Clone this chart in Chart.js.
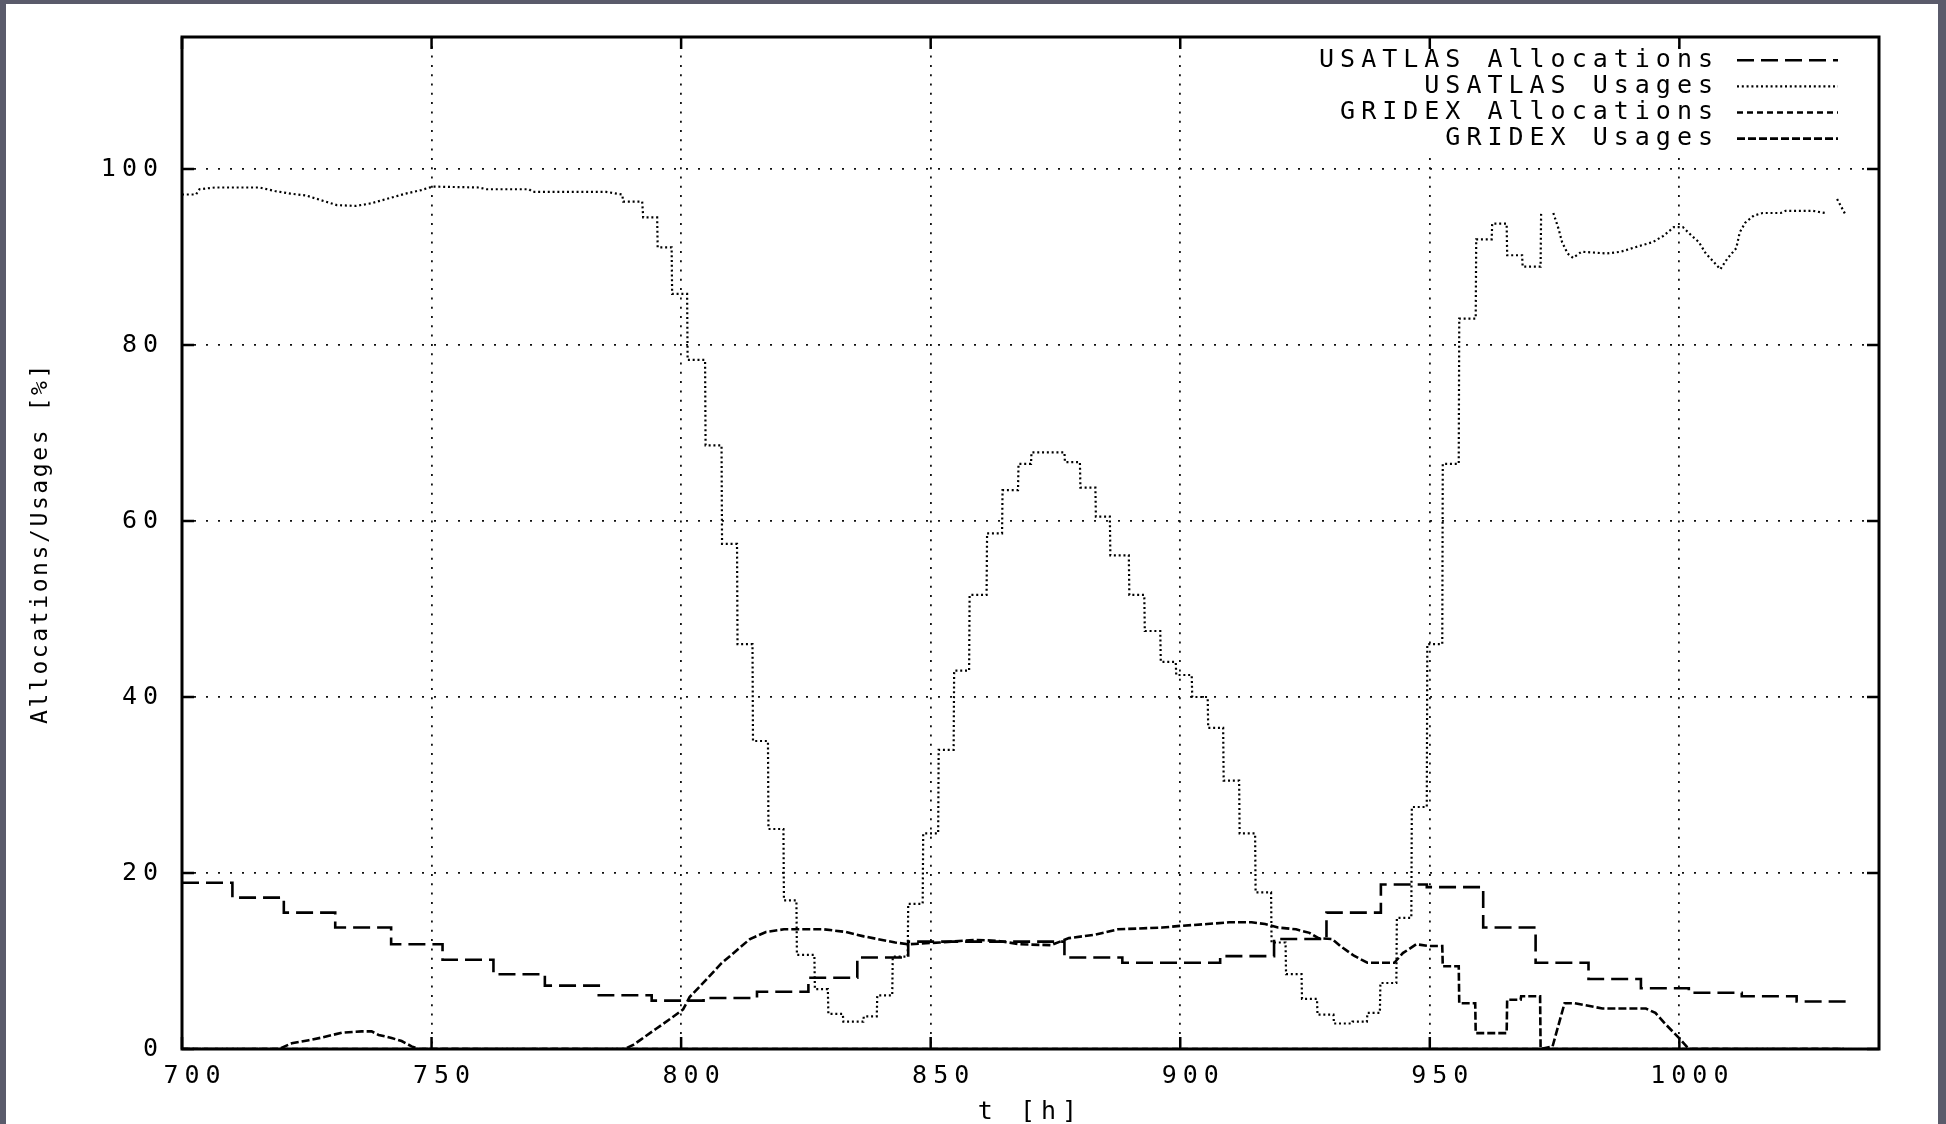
<!DOCTYPE html>
<html><head><meta charset="utf-8">
<script src="https://cdn.jsdelivr.net/npm/chart.js@4.4.1/dist/chart.umd.min.js"></script>
<style>
html,body{margin:0;padding:0;background:#5a5b6b;width:1946px;height:1124px;overflow:hidden}
#wrap{position:absolute;left:6px;top:4px;width:1932px;height:1120px;background:#fff}
</style></head><body><div id="wrap"><canvas id="c"></canvas></div>
<script>
// ---- axis ticks ----
const xTickValues = [700, 750, 800, 850, 900, 950, 1000];
const xTickLabels = ['700', '750', '800', '850', '900', '950', '1000'];
const yTickValues = [0, 20, 40, 60, 80, 100];
const yTickLabels = ['0', '20', '40', '60', '80', '100'];

// ---- series labels ----
const seriesLabels = ['USATLAS Allocations', 'USATLAS Usages', 'GRIDEX Allocations', 'GRIDEX Usages'];

// ---- USATLAS Allocations (step changes: time, value) ----
const usatlasAllocT = [700, 710.1, 720.4, 730.7, 741.9, 752.2, 762.4, 772.7, 783.5, 794.1, 804.5, 815.2, 825.5, 835.3, 845.5, 876.8, 888.4, 908, 918.8, 929.3, 940.2, 949.4, 960.7, 971.2, 981.8, 992.3, 1001.9, 1012.5, 1023.5, 1034];
const usatlasAllocV = [18.9, 17.2, 15.5, 13.8, 11.9, 10.15, 8.5, 7.2, 6.1, 5.5, 5.8, 6.5, 8.1, 10.4, 12.2, 10.4, 9.8, 10.55, 12.5, 15.5, 18.7, 18.4, 13.8, 9.8, 7.96, 6.9, 6.4, 6.0, 5.4, 5.4];

// ---- USATLAS Usages ----
const usatlasUseT = [700, 702.8, 703.5, 706.6, 715.5, 718.6, 721.7, 724.8, 727.9, 731, 734.8, 737.9, 741, 744.8, 747.9, 750.2, 759.5, 761, 769.5, 770.3, 785, 788.2,
  788.4, 792.2, 792.4, 795.2, 795.3, 798.1, 798.2, 801.2, 801.3, 804.8, 804.9, 808.1, 808.2, 811.2, 811.3, 814.3, 814.4, 817.4, 817.5, 820.5, 820.6, 823.1, 823.2, 826.7, 826.8, 829.4, 829.5, 832.4, 832.5, 836.5, 836.6, 839.2,
  839.3, 842.3, 842.4, 845.4, 845.5, 848.4, 848.5, 851.5, 851.6, 854.6, 854.7, 857.7, 857.8, 861.2, 861.3, 864.3, 864.4, 867.5, 867.6, 870.1, 870.2, 876.8,
  876.9, 879.9, 880, 883, 883.1, 885.9, 886, 889.7, 889.8, 892.8, 892.9, 896, 896.1, 899.1, 899.2, 902.3, 902.4, 905.5, 905.6, 908.6, 908.7, 911.8, 911.9, 915, 915.1, 918.2, 918.3, 921.1, 921.2, 924.3, 924.4, 927.4, 927.5, 930.7, 930.8, 934.4, 934.5, 937.4, 937.5, 940, 940.1, 943.3,
  943.4, 946.3, 946.4, 949.4, 949.5, 952.5, 952.6, 955.8, 955.9, 959.2, 959.3, 962.4, 962.5, 965.4, 965.5, 968.5, 968.6, 972.2, 972.3,
  973.5,
  974.75, 975.8, 976.5, 977.6, 978.7, 980.4, 985.4, 988.3, 991.1, 994.7, 996.8, 998.9, 1000.7, 1002.5, 1003.9, 1005.3, 1006.8, 1008.2, 1009.6, 1011.4, 1012.1, 1013.2, 1014.9, 1016.7, 1020.3, 1021.3, 1026.7, 1029.2,
  1030.4,
  1031.6, 1033.2];
const usatlasUseV = [97.1, 97.1, 97.7, 97.9, 97.9, 97.5, 97.2, 97.0, 96.45, 95.9, 95.8, 96.1, 96.6, 97.2, 97.6, 98.0, 97.9, 97.7, 97.7, 97.4, 97.4, 97.1,
  96.3, 96.3, 94.5, 94.5, 91.1, 91.1, 85.8, 85.8, 78.3, 78.3, 68.6, 68.6, 57.4, 57.4, 46, 46, 35, 35, 25, 25, 16.9, 16.9, 10.7, 10.7, 6.8, 6.8, 4.0, 4.0, 3.1, 3.1, 3.7, 3.7,
  6.1, 6.1, 10.5, 10.5, 16.5, 16.5, 24.5, 24.5, 34, 34, 43, 43, 51.6, 51.6, 58.6, 58.6, 63.5, 63.5, 66.5, 66.5, 67.8, 67.8,
  66.7, 66.7, 63.8, 63.8, 60.5, 60.5, 56.1, 56.1, 51.6, 51.6, 47.5, 47.5, 44, 44, 42.5, 42.5, 40, 40, 36.5, 36.5, 30.5, 30.5, 24.5, 24.5, 17.8, 17.8, 12.1, 12.1, 8.5, 8.5, 5.7, 5.7, 3.9, 3.9, 2.9, 2.9, 3.1, 3.1, 4.1, 4.1, 7.5, 7.5,
  14.9, 14.9, 27.5, 27.5, 46, 46, 66.5, 66.5, 83, 83, 92, 92, 93.8, 93.8, 90.2, 90.2, 88.9, 88.9, 94.9,
  null,
  95.0, 93.2, 91.7, 90.4, 89.9, 90.6, 90.4, 90.6, 91.1, 91.7, 92.4, 93.4, 93.4, 92.4, 91.7, 90.4, 89.5, 88.6, 89.8, 91.0, 92.8, 93.9, 94.7, 95.0, 95.0, 95.25, 95.25, 95.0,
  null,
  96.6, 94.9];

// ---- GRIDEX Allocations ----
const gridexAllocT = [700, 1033];
const gridexAllocV = [0, 0];

// ---- GRIDEX Usages ----
const gridexUseT = [700, 719.4, 722, 725.4, 728, 732, 736, 738, 739.4, 742, 744, 746, 747.4, 788.7, 790.5, 792, 795, 798, 800.4, 801.7, 804.9, 808, 810.7, 813.8, 817, 820.6, 828.6, 833, 836.6, 839.3, 842.9, 845.5, 851.8, 858.9, 863.4, 867.9, 874.1, 877.7, 883, 887.5, 896.4, 900.2, 905.4, 909.8, 914.3, 917, 919.6, 923.2, 925.9, 927.7, 930.4, 932.1, 934.8, 937.5, 942.9, 944.6, 947.3, 950, 952.5, 952.6, 955.8, 955.9, 959.1, 959.2, 965.4, 965.5, 968.2, 968.3, 972.1, 972.2, 974.6, 977, 979, 984.6, 993.3, 995.2, 997.1, 1000, 1001.9, 1033];
const gridexUseV = [0, 0, 0.65, 1.0, 1.3, 1.85, 2.0, 2.0, 1.6, 1.25, 0.9, 0.3, 0, 0, 0.5, 1.1, 2.3, 3.5, 4.5, 5.9, 7.8, 9.7, 11, 12.5, 13.3, 13.6, 13.6, 13.3, 12.8, 12.5, 12.1, 11.9, 12.1, 12.4, 12.3, 11.9, 11.8, 12.6, 13.0, 13.6, 13.8, 14.0, 14.2, 14.4, 14.4, 14.2, 13.8, 13.6, 13.2, 12.6, 12.5, 11.7, 10.6, 9.8, 9.8, 10.9, 11.9, 11.7, 11.7, 9.4, 9.4, 5.2, 5.2, 1.8, 1.8, 5.6, 5.6, 6.0, 6.0, 0, 0.3, 5.2, 5.2, 4.6, 4.6, 4.1, 2.9, 1.2, 0, 0];

const FONT = 'DejaVu Sans Mono';
const LETTER_SPACING = '6px';
const Y_TITLE_SPACING = '2.6px';
const TICK_LEN = 12;

function zip(t, v) { return t.map((x, i) => ({x: x, y: v[i]})); }

const frame = {
  id: 'frame',
  beforeDraw(chart) {
    chart.ctx.letterSpacing = LETTER_SPACING;
    const ys = chart.scales.y;
    if (ys && !ys.__wrapped) {
      const orig = ys.drawTitle;
      ys.drawTitle = function () {
        const c = this.ctx; const prev = c.letterSpacing;
        c.letterSpacing = Y_TITLE_SPACING; orig.call(this); c.letterSpacing = prev;
      };
      ys.__wrapped = true;
    }
  },
  afterDatasetsDraw(chart) {
    const {ctx, chartArea: a, scales: {x, y}} = chart;
    ctx.save();
    ctx.setLineDash([]);
    ctx.strokeStyle = '#000';
    ctx.lineWidth = 3;
    ctx.strokeRect(a.left, a.top, a.right - a.left, a.bottom - a.top);
    ctx.lineWidth = 2.5;
    ctx.beginPath();
    xTickValues.forEach(v => {
      const px = x.getPixelForValue(v);
      ctx.moveTo(px, a.bottom); ctx.lineTo(px, a.bottom - TICK_LEN);
      ctx.moveTo(px, a.top); ctx.lineTo(px, a.top + TICK_LEN);
    });
    yTickValues.forEach(v => {
      const py = y.getPixelForValue(v);
      ctx.moveTo(a.left, py); ctx.lineTo(a.left + TICK_LEN, py);
      ctx.moveTo(a.right, py); ctx.lineTo(a.right - TICK_LEN, py);
    });
    ctx.stroke();
    ctx.restore();
  },
  afterDraw(chart) {
    const {ctx, chartArea: a} = chart;
    const textRight = a.right - 160, lineL = a.right - 142, lineR = a.right - 41;
    const top = a.top + 23.3, row = 26.1;
    const n = chart.data.datasets.length;
    ctx.save();
    ctx.fillStyle = '#fff';
    ctx.fillRect(a.right - 575, a.top + 13, 570, row * (n - 1) + 28);
    ctx.font = '25px "' + FONT + '"';
    ctx.letterSpacing = LETTER_SPACING;
    ctx.textAlign = 'right';
    ctx.textBaseline = 'middle';
    ctx.fillStyle = '#000';
    chart.data.datasets.forEach((ds, i) => {
      const yy = top + i * row;
      ctx.fillText(ds.label, textRight, yy);
      ctx.strokeStyle = ds.borderColor;
      ctx.lineWidth = ds.borderWidth;
      ctx.setLineDash(ds.borderDash || []);
      ctx.beginPath(); ctx.moveTo(lineL, yy); ctx.lineTo(lineR, yy); ctx.stroke();
    });
    ctx.restore();
  }
};

const common = {borderColor: '#000', backgroundColor: '#000', pointRadius: 0, fill: false, tension: 0, spanGaps: false};

new Chart(document.getElementById('c'), {
  type: 'line',
  data: {
    datasets: [
      Object.assign({label: seriesLabels[0], data: zip(usatlasAllocT, usatlasAllocV), borderDash: [17, 7], borderWidth: 2.6, stepped: true}, common),
      Object.assign({label: seriesLabels[1], data: zip(usatlasUseT, usatlasUseV), borderDash: [2, 2.8], borderWidth: 2.2}, common),
      Object.assign({label: seriesLabels[2], data: zip(gridexAllocT, gridexAllocV), borderDash: [6, 4], borderWidth: 2.6}, common),
      Object.assign({label: seriesLabels[3], data: zip(gridexUseT, gridexUseV), borderDash: [8, 3], borderWidth: 2.6}, common)
    ]
  },
  options: {
    responsive: true, maintainAspectRatio: false, animation: false,
    layout: {padding: {left: 0, top: 31, right: 59, bottom: 0}},
    plugins: {legend: {display: false}, tooltip: {enabled: false}},
    scales: {
      x: {
        type: 'linear', min: 700, max: 1040,
        afterBuildTicks: s => { s.ticks = xTickValues.map(v => ({value: v})); },
        afterFit: s => { s.height = 75; },
        ticks: {font: {family: FONT, size: 25}, color: '#000', padding: 12, labelOffset: 13, maxRotation: 0, autoSkip: false,
                callback: (v, i) => xTickLabels[i]},
        grid: {color: '#111', lineWidth: 1.8, drawTicks: false},
        border: {display: false, dash: [2, 7.3]},
        title: {display: true, text: 't [h]', font: {family: FONT, size: 25, lineHeight: 0.9}, color: '#000', padding: 0}
      },
      y: {
        type: 'linear', min: 0, max: 115,
        afterBuildTicks: s => { s.ticks = yTickValues.map(v => ({value: v})); },
        afterFit: s => { s.width = 176; },
        ticks: {font: {family: FONT, size: 25}, color: '#000', padding: 18, autoSkip: false,
                callback: (v, i) => yTickLabels[i]},
        grid: {color: '#111', lineWidth: 1.8, drawTicks: false},
        border: {display: false, dash: [2, 10]},
        title: {display: true, text: 'Allocations/Usages [%]', font: {family: FONT, size: 23, lineHeight: 1.2}, color: '#000', padding: {top: 21, bottom: 0}}
      }
    }
  },
  plugins: [frame]
});
</script></body></html>
